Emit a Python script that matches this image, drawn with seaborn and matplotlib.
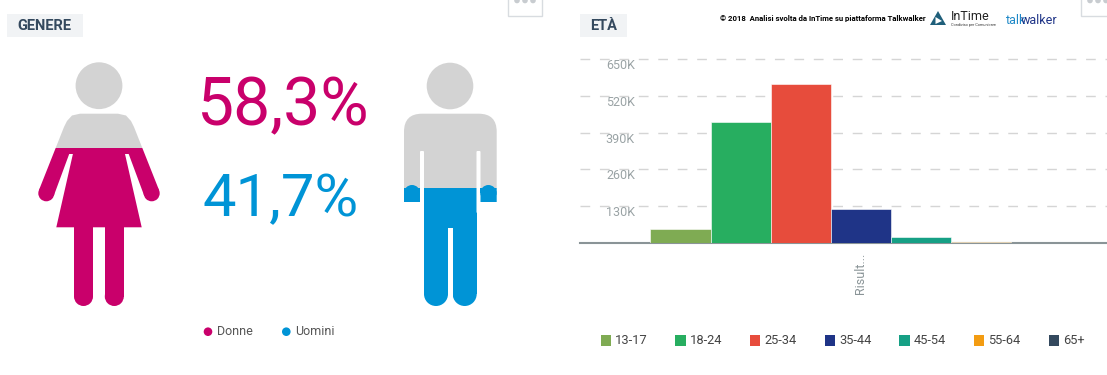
import matplotlib
matplotlib.use('Agg')
import matplotlib.pyplot as plt
import pandas as pd
import seaborn as sns
from matplotlib.patches import Circle, Polygon, Rectangle, FancyBboxPatch

FIG_W, FIG_H = 1107, 375

# age chart values, in thousands
age_groups = ['13-17', '18-24', '25-34', '35-44', '45-54', '55-64', '65+']
age_values = [50.5, 427, 560, 121, 20, 3, 0.5]
age_colors = ['#7FAB53', '#27AE60', '#E74C3C', '#1F3487', '#16A085', '#F39C12', '#34495E']
y_ticks = [130, 260, 390, 520, 650]
y_tick_labels = ['130K', '260K', '390K', '520K', '650K']
category_label = 'Risult...'

# gender panel
gender_names = ['Donne', 'Uomini']
gender_shares = ['58,3%', '41,7%']
gender_colors = ['#C9006B', '#0094D6']

GREY = '#D3D3D3'
NARROW = ['Liberation Sans Narrow', 'Roboto', 'DejaVu Sans']

sns.set_theme(style='white')
plt.rcParams['font.family'] = ['Roboto', 'DejaVu Sans']

fig = plt.figure(figsize=(FIG_W / 100, FIG_H / 100), dpi=100)

# full figure overlay in pixel coordinates, for the pictograms and labels
bg = fig.add_axes([0, 0, 1, 1])
bg.set_xlim(0, FIG_W)
bg.set_ylim(FIG_H, 0)
bg.set_axis_off()


def add_two_tone(shapes, cut_y, color):
    """Draw shapes grey above cut_y and coloured below it."""
    for make in shapes:
        top = make(GREY)
        bottom = make(color)
        bg.add_patch(top)
        bg.add_patch(bottom)
        top.set_clip_path(Rectangle((0, 0), FIG_W, cut_y, transform=bg.transData))
        bottom.set_clip_path(Rectangle((0, cut_y), FIG_W, FIG_H, transform=bg.transData))


def circle(x, y, r):
    return lambda c: Circle((x, y), r, fc=c, ec='none')


def poly(points):
    return lambda c: Polygon(points, closed=True, fc=c, ec='none')


def rounded(x0, y0, x1, y1, r):
    return lambda c: FancyBboxPatch((x0 + r, y0 + r), x1 - x0 - 2 * r, y1 - y0 - 2 * r,
                                    boxstyle=f'round,pad={r},rounding_size={r}', fc=c, ec='none')


woman_body = [(80, 113.7), (118, 113.7), (126, 115.5), (131, 121), (134, 127), (159.2, 190.5),
              (144.3, 196), (128.7, 154), (125, 154), (141.7, 227.3), (56.3, 227.3),
              (72.9, 154), (69.2, 154), (53.7, 196), (38.8, 190.5), (64, 127), (67, 121), (72, 115.5)]
woman = [
    circle(99, 85.7, 23.4),
    poly(woman_body),
    circle(46.3, 193.3, 8),
    circle(151.7, 193.3, 8),
    poly([(74, 225), (93, 225), (93, 297), (74, 297)]),
    poly([(105, 225), (123.7, 225), (123.7, 297), (105, 297)]),
    circle(83.5, 296.5, 9.5),
    circle(114.3, 296.5, 9.5),
]
add_two_tone(woman, 148, gender_colors[0])

man = [
    circle(450, 86, 23.3),
    rounded(404, 113.7, 496.7, 240, 18),
    circle(412, 193, 8),
    circle(488.4, 193, 8),
    circle(436, 294, 12),
    circle(464.7, 294, 12),
    poly([(424, 200), (476.7, 200), (476.7, 294), (424, 294)]),
]
add_two_tone(man, 188.3, gender_colors[1])
# cut the man's arms and legs apart
bg.add_patch(Rectangle((403, 201.5), 21, 50, fc='white', ec='none'))
bg.add_patch(Rectangle((476.5, 201.5), 22, 50, fc='white', ec='none'))
bg.add_patch(FancyBboxPatch((421, 152), 2, 60, boxstyle='round,pad=1,rounding_size=1', fc='white', ec='none'))
bg.add_patch(FancyBboxPatch((477.5, 152), 2, 60, boxstyle='round,pad=1,rounding_size=1', fc='white', ec='none'))
bg.add_patch(Rectangle((448, 227.7), 4.7, 70, fc='white', ec='none'))
# arm ends sit over the white cut above
for x in (412, 488.4):
    bg.add_patch(Circle((x, 193), 8, fc=gender_colors[1], ec='none'))
    bg.add_patch(Rectangle((x - 8, 188.3), 16, 5, fc=gender_colors[1], ec='none'))

# big percentages
bg.text(196, 125, gender_shares[0], color=gender_colors[0], fontsize=47.5, family=NARROW, ha='left', va='baseline')
bg.text(202, 216, gender_shares[1], color=gender_colors[1], fontsize=43, family=NARROW, ha='left', va='baseline')

# gender legend
for name, col, x_dot in zip(gender_names, gender_colors, [208, 286.3]):
    bg.add_patch(Circle((x_dot, 331.7), 4.3, fc=col, ec='none'))
    bg.text(x_dot + 9, 331.7, name, color='#555555', fontsize=9, ha='left', va='center')

# panel title badges
for label, x0, x1 in [('GENERE', 7, 83), ('ETÀ', 580, 627)]:
    bg.add_patch(Rectangle((x0, 14), x1 - x0, 22.5, fc='#F1F3F5', ec='none'))
    bg.text(x0 + 10, 25.5, label, color='#34495E', fontsize=10.5, fontweight='bold', ha='left', va='center')

# "..." menu boxes cut by the top edge
for x0 in (508, 1081):
    bg.add_patch(Rectangle((x0, -5), 33.5, 21, fc='white', ec='#D8DCE0', lw=1))
    for dx in (9, 17, 25):
        bg.add_patch(Circle((x0 + dx, 0.5), 2.8, fc='#C8CCD0', ec='none'))

# credit line and logos
bg.text(720, 18.5, '© 2018  Analisi svolta da InTime su piattaforma Talkwalker', color='black',
        fontsize=5.6, fontweight='bold', ha='left', va='center')
bg.add_patch(Polygon([(938, 11), (946, 25), (930, 25)], closed=True, fc='#1F5F7A', ec='none'))
bg.add_patch(Polygon([(935.5, 17), (942, 21), (935.5, 24)], closed=True, fc='white', ec='none'))
bg.text(951, 16.5, 'InTime', color='#222222', fontsize=9, ha='left', va='center')
bg.text(951, 24.8, 'Condiviso per Comunicare', color='#333333', fontsize=2.8, ha='left', va='center')
bg.text(1006, 21, 'talk', color='#1E88C7', fontsize=9, family=NARROW, ha='left', va='center')
bg.text(1021, 21, 'walker', color='#1F3487', fontsize=9, family=NARROW, ha='left', va='center')

# age bar chart
ax = fig.add_axes([580 / FIG_W, (FIG_H - 243) / FIG_H, 527 / FIG_W, 184 / FIG_H])
ax.patch.set_alpha(0)
df = pd.DataFrame({'cat': [category_label] * len(age_groups), 'age': age_groups, 'value': age_values})
sns.barplot(data=df, x='cat', y='value', hue='age', hue_order=age_groups, palette=age_colors,
            width=1, gap=0, saturation=1, legend=False, ax=ax, zorder=3,
            edgecolor='white', linewidth=0.4, errorbar=None)
ax.set_xlim(-0.667, 0.584)
ax.set_ylim(0, 650)
ax.set_xlabel('')
ax.set_ylabel('')
ax.set_yticks(y_ticks)
ax.set_yticklabels(y_tick_labels, va='top', color='#9AA3A5', fontsize=9)
ax.tick_params(axis='y', length=0, pad=-39.6)
for lab in ax.get_yticklabels():
    lab.set_y(lab.get_position()[1])
ax.tick_params(axis='x', length=0, pad=7)
ax.set_xticks([0])
ax.set_xticklabels([category_label], rotation=90, color='#8A9497', fontsize=9)
ax.grid(axis='y', color='#D5D5D5', linewidth=1, linestyle=(0, (7, 7)), zorder=0, clip_on=False)
ax.set_axisbelow(True)
sns.despine(ax=ax, left=True, top=True, right=True)
ax.spines['bottom'].set_color('#8A9497')
ax.spines['bottom'].set_linewidth(1.5)

# age legend
for i, (label, col) in enumerate(zip(age_groups, age_colors)):
    x0 = 600.5 + i * 74.7
    bg.add_patch(Rectangle((x0, 335), 10.3, 10.5, fc=col, ec='none'))
    bg.text(x0 + 14.5, 340.5, label, color='#444444', fontsize=9.3, ha='left', va='center')

fig.savefig('out.png', dpi=100)
